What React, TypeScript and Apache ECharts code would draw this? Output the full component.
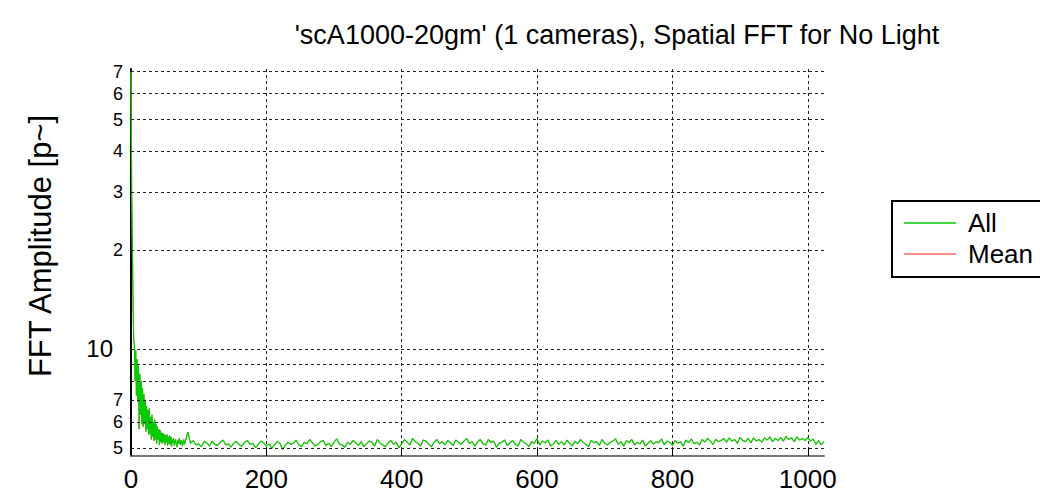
import React, { useEffect, useRef } from 'react';
import * as echarts from 'echarts';

const titleText = "'scA1000-20gm' (1 cameras), Spatial FFT for No Light";
const yAxisName = 'FFT Amplitude [p~]';
const seriesNames = ['All', 'Mean'];
const xTickValues = [0, 200, 400, 600, 800, 1000];
const gridValues = [5, 6, 7, 8, 9, 10, 20, 30, 40, 50, 60, 70];
const gridLabels = ['5', '6', '7', '', '', '10', '2', '3', '4', '5', '6', '7'];

// FFT amplitude, one value per bin for bins 0..79
const headValues = [
  70, 31, 21, 14, 10.6, 10.3, 8.0, 9.9, 7.2, 9.3,
  6.9, 8.9, 5.7, 8.4, 6.3, 8.0, 5.9, 7.6, 5.8, 7.3,
  5.9, 7.0, 5.6, 6.7, 5.7, 6.5, 5.5, 6.6, 5.5, 6.2,
  5.3, 6.3, 5.4, 6.0, 5.25, 6.1, 5.3, 5.9, 5.15, 5.8,
  5.3, 5.7, 5.1, 5.65, 5.2, 5.55, 5.15, 5.55, 5.2, 5.5,
  5.1, 5.45, 5.2, 5.5, 5.08, 5.4, 5.15, 5.45, 5.1, 5.4,
  5.05, 5.3, 5.18, 5.34, 5.08, 5.22, 5.3, 5.12, 5.02, 5.26,
  5.14, 5.34, 5.2, 5.1, 5.28, 5.22, 5.06, 5.18, 5.3, 5.12,
];

// FFT amplitude sampled every 4 bins, from bin 80 to bin 1024
const tailStartBin = 80;
const tailBinStep = 4;
const tailValues = [
  5.2, 5.58, 5.16, 5.26, 5.1, 5.14, 5.04, 5.22, 5.18, 5.06, 5.24, 5.12, 5.08, 5.2, 5.28, 5.1, 5.14, 5.02, 5.18, 5.22,
  5.1, 5.06, 5.2, 5.26, 5.12, 5.16, 5.0, 5.12, 5.24, 5.18, 5.06, 5.14, 4.98, 5.1, 5.22, 5.16, 4.94, 5.08, 5.2, 5.12,
  5.16, 5.28, 5.1, 5.04, 5.2, 5.14, 5.3, 5.18, 5.06, 5.12, 5.22, 5.26, 5.08, 5.16, 5.04, 5.2, 5.32, 5.14, 5.1, 5.02,
  5.2, 5.12, 5.26, 5.18, 5.08, 5.22, 5.04, 5.14, 5.24, 5.2, 5.06, 5.3, 5.16, 5.1, 5.04, 5.18, 5.26, 5.12, 5.2, 5.0,
  5.14, 5.3, 5.2, 5.1, 5.34, 5.22, 5.16, 5.06, 5.28, 5.24, 5.12, 5.04, 5.2, 5.3, 5.14, 5.22, 5.1, 5.26, 5.18, 5.08,
  5.28, 5.2, 5.12, 5.24, 5.34, 5.16, 5.22, 5.06, 5.2, 5.3, 5.14, 5.1, 5.3, 5.18, 5.24, 5.02, 5.16, 5.2, 5.28, 5.08,
  5.18, 5.26, 5.12, 5.06, 5.3, 5.2, 5.14, 5.04, 5.22, 5.16, 5.34, 5.1, 5.24, 5.18, 5.28, 5.06, 5.14, 5.26, 5.12, 5.22,
  5.1, 5.28, 5.16, 5.06, 5.24, 5.14, 5.3, 5.2, 5.12, 5.04, 5.26, 5.18, 5.22, 5.08, 5.3, 5.16, 5.1, 5.2, 5.24, 5.32,
  5.12, 5.22, 5.06, 5.26, 5.18, 5.3, 5.1, 5.2, 5.14, 5.28, 5.06, 5.16, 5.26, 5.12, 5.22, 5.18, 5.32, 5.1, 5.24, 5.2,
  5.08, 5.26, 5.16, 5.22, 5.06, 5.28, 5.18, 5.32, 5.14, 5.2, 5.1, 5.3, 5.2, 5.34, 5.24, 5.12, 5.3, 5.22, 5.26, 5.34,
  5.2, 5.36, 5.24, 5.3, 5.16, 5.38, 5.26, 5.22, 5.34, 5.18, 5.36, 5.24, 5.3, 5.2, 5.36, 5.28, 5.4, 5.22, 5.34, 5.26,
  5.38, 5.24, 5.42, 5.3, 5.36, 5.22, 5.4, 5.28, 5.34, 5.26, 5.38, 5.24, 5.32, 5.12, 5.26, 5.1, 5.22,
];

const FONT = "'Liberation Sans', Arial, Helvetica, sans-serif";

export default function App() {
  const ref = useRef<HTMLDivElement>(null);

  useEffect(() => {
    if (!ref.current) return;
    const chart = echarts.init(ref.current, null, { renderer: 'svg' });

    const data: [number, number][] = [
      ...headValues.map((v, i) => [i, v] as [number, number]),
      ...tailValues.map((v, i) => [tailStartBin + i * tailBinStep, v] as [number, number]),
    ];

    const markData = gridValues.map((v, i) => ({
      yAxis: v,
      label: {
        show: gridLabels[i] !== '',
        formatter: gridLabels[i],
        position: 'start',
        fontSize: v === 10 ? 24 : 18,
        distance: v === 10 ? 18 : 8,
        color: '#000',
        fontFamily: FONT,
      },
    }));

    chart.setOption({
      animation: false,
      backgroundColor: '#fff',
      textStyle: { fontFamily: FONT },
      title: {
        text: titleText,
        left: 612,
        top: 16,
        textAlign: 'center',
        textStyle: { fontSize: 27, fontWeight: 'normal', color: '#000', fontFamily: FONT },
      },
      legend: {
        data: seriesNames,
        orient: 'vertical',
        left: 892,
        top: 201,
        padding: [9, 40, 10, 12],
        itemGap: 5,
        itemWidth: 52,
        itemHeight: 1.5,
        icon: 'rect',
        borderColor: '#000',
        borderWidth: 2,
        backgroundColor: '#fff',
        textStyle: { fontSize: 26, color: '#000', fontFamily: FONT, padding: [0, 0, 0, 7] },
      },
      grid: { left: 131, right: 216, top: 69, bottom: 40, containLabel: false, outerBoundsMode: 'none' },
      xAxis: {
        type: 'value',
        min: 0,
        max: 1024,
        interval: 200,
        axisLine: { show: true, onZero: false, lineStyle: { color: '#777', width: 2 } },
        axisTick: { show: true, inside: true, length: 8, customValues: xTickValues, lineStyle: { color: '#000' } },
        axisLabel: {
          customValues: xTickValues,
          formatter: (v: number) => String(v),
          fontSize: 26,
          margin: 10,
          color: '#000',
          fontFamily: FONT,
        },
        splitLine: { show: true, lineStyle: { color: '#222', type: [3, 3], width: 1 } },
      },
      yAxis: {
        type: 'log',
        logBase: 10,
        min: 4.72,
        max: 71.3,
        name: yAxisName,
        nameLocation: 'middle',
        nameGap: 75,
        nameRotate: 90,
        nameTextStyle: { fontSize: 31, color: '#000', fontFamily: FONT, padding: [0, 0, 0, 33] },
        axisLine: { show: true, lineStyle: { color: '#000', width: 2 } },
        axisTick: { show: false },
        axisLabel: { show: false },
        splitLine: { show: false },
      },
      series: [
        {
          name: 'Mean',
          type: 'line',
          data,
          symbol: 'none',
          z: 2,
          lineStyle: { color: '#ff6666', width: 1 },
          itemStyle: { color: '#ff6666' },
          emphasis: { disabled: true },
          markLine: {
            silent: true,
            symbol: ['none', 'none'],
            animation: false,
            lineStyle: { color: '#222', type: [3, 3], width: 1 },
            emphasis: { disabled: true },
            data: markData,
          },
        },
        {
          name: 'All',
          type: 'line',
          data,
          symbol: 'none',
          z: 3,
          lineStyle: { color: '#00cc00', width: 1.2 },
          itemStyle: { color: '#00cc00' },
          emphasis: { disabled: true },
        },
      ],
    });

    return () => chart.dispose();
  }, []);

  return (
    <div
      ref={ref}
      style={{ position: 'fixed', left: 0, top: 0, width: 1040, height: 496, background: '#fff' }}
    />
  );
}
